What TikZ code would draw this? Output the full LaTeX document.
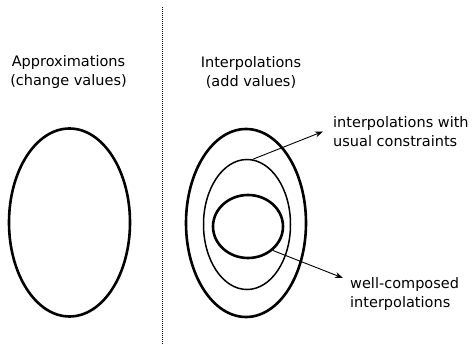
\documentclass[tikz,border=0pt]{standalone}
\usepackage{fontspec}
\setmainfont{DejaVu Sans}
\usetikzlibrary{shapes.geometric,arrows.meta}
\begin{document}
\begin{tikzpicture}[x=1pt,y=-1pt,
  font=\fontsize{14.5}{19}\selectfont,
  thickell/.style={draw,ellipse,line width=2.6pt,inner sep=0pt},
  thinell/.style={draw,ellipse,line width=1.5pt,inner sep=0pt},
  title/.style={align=center,inner sep=0pt},
  lbl/.style={align=left,anchor=north west,inner sep=0pt},
  arr/.style={-{Stealth[length=8pt,width=6pt]},line width=0.9pt},
  sep/.style={line width=1pt,dash pattern=on 1pt off 1pt}]
\useasboundingbox (0,0) rectangle (474,344);
% separator
\coordinate (sepTop) at (162.5,7);
\coordinate (sepBot) at (162.5,344);
\draw[sep] (sepTop) -- (sepBot);
% titles
\node[title] (tApprox) at (68.5,72.5) {Approximations\\(change values)};
\node[title] (tInterp) at (251,72.5) {Interpolations\\(add values)};
% ellipses
\node[thickell,minimum width=121pt,minimum height=188pt] (approx) at (69.5,222.5) {};
\node[thickell,minimum width=120pt,minimum height=188pt] (outer) at (246,223) {};
\node[thinell,minimum width=87pt,minimum height=130pt] (mid) at (247,224.5) {};
\node[thickell,minimum width=70pt,minimum height=63pt] (inner) at (248,226.5) {};
% labels
\node[lbl] (lab1) at (333,116.5) {interpolations with\\usual constraints};
\node[lbl] (lab2) at (350,277) {well-composed\\interpolations};
% arrows
\draw[arr] (mid.85) -- ([shift={(-10pt,-15pt)}]lab1.north west);
\draw[arr] (inner.-44) -- ([shift={(-7pt,-1pt)}]lab2.north west);
\end{tikzpicture}
\end{document}
